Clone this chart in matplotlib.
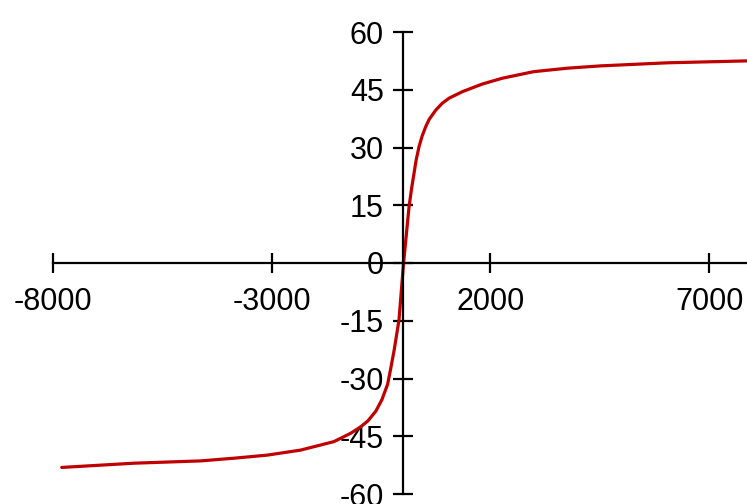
import matplotlib
matplotlib.use("Agg")
import matplotlib.pyplot as plt

# Data
field = [-7800, -6150, -4620, -3860, -3100, -2340, -1580, -1400, -1190, -960,
         -800, -620, -480, -350, -280, -200, -90, 15, 140, 200, 254, 300, 368,
         440, 521, 600, 750, 900, 1054, 1360, 1818, 2275, 2990, 3760, 4520,
         6050, 7880, 8000]
moment = [-53.1, -52.0, -51.4, -50.7, -49.9, -48.6, -46.4, -45.4, -44.2, -42.5,
          -41.0, -38.5, -35.5, -31.5, -27.5, -22.6, -14.8, 0.0, 14.6, 19.5, 23.3,
          26.6, 30.2, 33.0, 35.4, 37.3, 39.7, 41.5, 42.8, 44.5, 46.5, 48.0, 49.7,
          50.6, 51.2, 52.0, 52.5, 52.5]
x_ticks = [-8000, -3000, 2000, 7000]
y_ticks = [-60, -45, -30, -15, 0, 15, 30, 45, 60]

plt.rcParams['font.family'] = ['Liberation Sans', 'DejaVu Sans']

W, H = 747, 504
fig = plt.figure(figsize=(W / 100, H / 100), dpi=100)
left_px, right_px = 53, 53 + 16000 * 0.04374
top_px, bot_px = 32, 494
ax = fig.add_axes([left_px / W, (H - bot_px) / H,
                   (right_px - left_px) / W, (bot_px - top_px) / H])

ax.plot(field, moment, color='#C00000', lw=2.3, solid_capstyle='round',
        solid_joinstyle='round')

ax.set_xlim(-8000, 8000)
ax.set_ylim(-60, 60)
ax.spines['left'].set_position(('data', 0))
ax.spines['bottom'].set_position(('data', 0))
ax.spines['top'].set_visible(False)
ax.spines['right'].set_visible(False)
for s in ('left', 'bottom'):
    ax.spines[s].set_linewidth(1.6)
    ax.spines[s].set_color('black')

ax.set_xticks(x_ticks)
ax.set_yticks(y_ticks)
ax.set_xticklabels([str(v) for v in x_ticks])
ax.set_yticklabels([str(v) for v in y_ticks])
ax.tick_params(axis='both', direction='inout', length=14.5, width=1.6,
               labelsize=22, colors='black')
ax.tick_params(axis='x', pad=10)
ax.tick_params(axis='y', pad=6.5)
ax.set_facecolor('white')
fig.patch.set_facecolor('white')

fig.savefig('out.png', dpi=100)
